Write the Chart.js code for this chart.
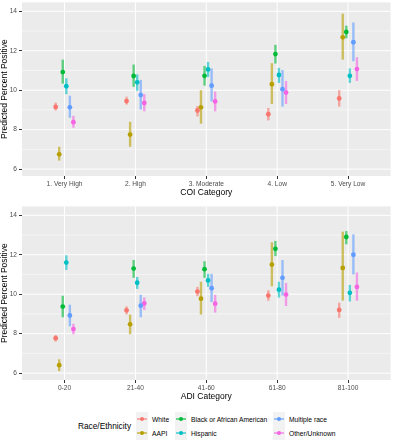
<!DOCTYPE html>
<html lang="en">
<head>
    <meta charset="utf-8">
    <title>Predicted Percent Positive by COI and ADI Category</title>
    <script src="https://cdn.jsdelivr.net/npm/chart.js"></script>
    <style>
        body {
            margin: 0;
            background: #fff;
            font-family: "Liberation Sans", Arial, sans-serif;
        }

        #wrap {
            position: relative;
            width: 393px;
            height: 440px;
        }

        .panel {
            position: absolute;
            left: 0;
            width: 393px;
            height: 200px;
        }

        #legend .ltitle {
            position: absolute;
            left: 78px;
            top: 421px;
            font-size: 8.3px;
            line-height: 10px;
            color: #000;
        }

        .lcol {
            position: absolute;
            top: 412px;
        }

        .litem {
            display: flex;
            align-items: center;
            height: 14px;
        }

        .lkey {
            position: relative;
            width: 12px;
            height: 14px;
            background: #F2F2F2;
            margin-right: 4px;
        }

        .lkey .ln {
            position: absolute;
            left: 1px;
            right: 1px;
            top: 6px;
            height: 2px;
            opacity: 0.55;
        }

        .lkey .dot {
            position: absolute;
            left: 4px;
            top: 5px;
            width: 4px;
            height: 4px;
            border-radius: 50%;
        }

        .ltext {
            font-size: 6.7px;
            color: #000;
        }
    </style>
</head>

<body>
    <div id="wrap">
        <div class="panel" style="top:0"><canvas id="coiChart" width="393" height="200"></canvas></div>
        <div class="panel" style="top:204px"><canvas id="adiChart" width="393" height="200"></canvas></div>
        <div id="legend"></div>
    </div>

    <script>
        const races = ['White', 'AAPI', 'Black or African American', 'Hispanic', 'Multiple race', 'Other/Unknown'];
        const raceColors = ['#F8766D', '#B79F00', '#00BA38', '#00BFC4', '#619CFF', '#F564E3'];

        const coiCategories = ['1. Very High', '2. High', '3. Moderate', '4. Low', '5. Very Low'];
        // one row per race, one column per COI category
        const coiMean = [
            [9.15, 9.45, 8.97, 8.78, 9.58],
            [6.75, 7.75, 9.13, 10.3, 12.68],
            [10.92, 10.72, 10.73, 11.83, 12.95],
            [10.2, 10.4, 11.05, 10.77, 10.73],
            [9.13, 9.75, 10.23, 10.05, 12.43],
            [8.38, 9.35, 9.43, 9.88, 11.07]
        ];
        const coiLower = [
            [8.97, 9.27, 8.67, 8.47, 9.17],
            [6.43, 7.13, 8.3, 9.3, 11.55],
            [10.33, 10.17, 10.23, 11.35, 12.63],
            [9.8, 9.97, 10.67, 10.37, 10.37],
            [8.6, 9.02, 9.43, 9.17, 11.47],
            [8.1, 8.93, 8.93, 9.3, 10.47]
        ];
        const coiUpper = [
            [9.37, 9.67, 9.2, 9.1, 10.0],
            [7.13, 8.4, 10.0, 11.37, 13.88],
            [11.55, 11.3, 11.23, 12.3, 13.27],
            [10.6, 10.8, 11.43, 11.13, 11.1],
            [9.72, 10.52, 11.1, 11.02, 13.43],
            [8.7, 9.8, 9.93, 10.47, 11.67]
        ];

        const adiCategories = ['0-20', '21-40', '41-60', '61-80', '81-100'];
        const adiMean = [
            [7.77, 9.18, 10.13, 9.93, 9.2],
            [6.4, 8.47, 9.77, 11.5, 11.33],
            [9.37, 11.3, 11.27, 12.3, 12.9],
            [11.6, 10.58, 10.7, 10.23, 10.07],
            [8.92, 9.42, 10.3, 10.83, 12.0],
            [8.23, 9.53, 9.52, 9.98, 10.37]
        ];
        const adiLower = [
            [7.6, 8.98, 9.9, 9.67, 8.8],
            [6.1, 7.97, 8.97, 10.4, 9.67],
            [8.83, 10.83, 10.83, 11.93, 12.53],
            [11.23, 10.27, 10.37, 9.83, 9.63],
            [8.37, 8.83, 9.6, 9.93, 11.0],
            [7.97, 9.2, 9.07, 9.4, 9.67]
        ];
        const adiUpper = [
            [7.93, 9.38, 10.37, 10.2, 9.57],
            [6.7, 8.97, 10.63, 12.63, 13.17],
            [9.92, 11.73, 11.67, 12.7, 13.2],
            [11.97, 10.87, 11.03, 10.63, 10.47],
            [9.47, 9.97, 11.03, 11.73, 13.03],
            [8.5, 9.83, 9.97, 10.57, 11.1]
        ];

        const yTicks = [6, 8, 10, 12, 14];
        const yMinorTicks = [7, 9, 11, 13];
        const dodge = 0.05;

        // gray panel + white grid, drawn under the points
        const panelBackground = {
            id: 'panelBackground',
            beforeDraw(chart) {
                const { ctx, chartArea: a, scales } = chart;
                ctx.save();
                ctx.fillStyle = '#EBEBEB';
                ctx.fillRect(a.left, a.top, a.right - a.left, a.bottom - a.top);
                ctx.strokeStyle = '#FFFFFF';
                ctx.lineWidth = 0.5;
                yMinorTicks.forEach(v => {
                    const y = scales.y.getPixelForValue(v);
                    ctx.beginPath(); ctx.moveTo(a.left, y); ctx.lineTo(a.right, y); ctx.stroke();
                });
                ctx.lineWidth = 1;
                yTicks.forEach(v => {
                    const y = scales.y.getPixelForValue(v);
                    ctx.beginPath(); ctx.moveTo(a.left, y); ctx.lineTo(a.right, y); ctx.stroke();
                });
                scales.x.ticks.forEach(t => {
                    const x = scales.x.getPixelForValue(t.value);
                    ctx.beginPath(); ctx.moveTo(x, a.top); ctx.lineTo(x, a.bottom); ctx.stroke();
                });
                ctx.restore();
            }
        };

        // vertical interval lines behind each point
        const errorBars = {
            id: 'errorBars',
            beforeDatasetsDraw(chart) {
                const { ctx, scales } = chart;
                ctx.save();
                ctx.lineWidth = 2.4;
                ctx.globalAlpha = 0.6;
                chart.data.datasets.forEach((ds, i) => {
                    const meta = chart.getDatasetMeta(i);
                    ctx.strokeStyle = ds.borderColor;
                    meta.data.forEach((pt, j) => {
                        ctx.beginPath();
                        ctx.moveTo(pt.x, scales.y.getPixelForValue(ds.lower[j]));
                        ctx.lineTo(pt.x, scales.y.getPixelForValue(ds.upper[j]));
                        ctx.stroke();
                    });
                });
                ctx.restore();
            }
        };

        function makePanel(canvasId, categories, mean, lower, upper, xTitle) {
            const datasets = races.map((race, r) => ({
                label: race,
                data: categories.map((c, i) => ({ x: i + (r - 2.5) * dodge, y: mean[r][i] })),
                lower: lower[r],
                upper: upper[r],
                backgroundColor: raceColors[r],
                borderColor: raceColors[r],
                borderWidth: 0,
                pointRadius: 2.4,
                pointHoverRadius: 2.4
            }));

            return new Chart(document.getElementById(canvasId), {
                type: 'scatter',
                data: { datasets },
                options: {
                    responsive: false,
                    animation: false,
                    layout: { padding: { top: 0, right: 1, bottom: 0, left: 0 } },
                    plugins: {
                        legend: { display: false },
                        tooltip: { enabled: false }
                    },
                    scales: {
                        x: {
                            type: 'linear',
                            min: -0.6,
                            max: categories.length - 0.4,
                            afterBuildTicks: s => { s.ticks = categories.map((c, i) => ({ value: i })); },
                            afterFit: s => { s.height = 24; s.paddingLeft = 0; s.paddingRight = 0; },
                            ticks: {
                                callback: v => categories[v],
                                autoSkip: false,
                                maxRotation: 0,
                                color: '#4D4D4D',
                                padding: 1,
                                font: { family: 'Liberation Sans', size: 6.6 }
                            },
                            grid: { drawOnChartArea: false, color: '#333333', tickLength: 3 },
                            border: { display: false },
                            title: {
                                display: true,
                                text: xTitle,
                                color: '#000',
                                padding: { top: 1, bottom: 2 },
                                font: { family: 'Liberation Sans', size: 8.5 }
                            }
                        },
                        y: {
                            min: 5.65,
                            max: 14.45,
                            afterBuildTicks: s => { s.ticks = yTicks.map(v => ({ value: v })); },
                            afterFit: s => { s.width = 22; s.paddingTop = 0; s.paddingBottom = 0; },
                            ticks: {
                                color: '#4D4D4D',
                                padding: 2,
                                font: { family: 'Liberation Sans', size: 6.6 }
                            },
                            grid: { drawOnChartArea: false, color: '#333333', tickLength: 3 },
                            border: { display: false },
                            title: {
                                display: true,
                                text: 'Predicted Percent Positive',
                                color: '#000',
                                padding: 0,
                                font: { family: 'Liberation Sans', size: 8.5 }
                            }
                        }
                    }
                },
                plugins: [panelBackground, errorBars]
            });
        }

        makePanel('coiChart', coiCategories, coiMean, coiLower, coiUpper, 'COI Category');
        makePanel('adiChart', adiCategories, adiMean, adiLower, adiUpper, 'ADI Category');

        // legend: title on the left, three columns of two keys
        const legend = document.getElementById('legend');
        legend.innerHTML = '<div class="ltitle">Race/Ethnicity</div>';
        const colLefts = [136, 175, 273];
        colLefts.forEach((left, c) => {
            const col = document.createElement('div');
            col.className = 'lcol';
            col.style.left = left + 'px';
            [0, 1].forEach(k => {
                const r = c * 2 + k;
                col.innerHTML += '<div class="litem"><div class="lkey">' +
                    '<div class="ln" style="background:' + raceColors[r] + '"></div>' +
                    '<div class="dot" style="background:' + raceColors[r] + '"></div></div>' +
                    '<span class="ltext">' + races[r] + '</span></div>';
            });
            legend.appendChild(col);
        });
    </script>
</body>

</html>
